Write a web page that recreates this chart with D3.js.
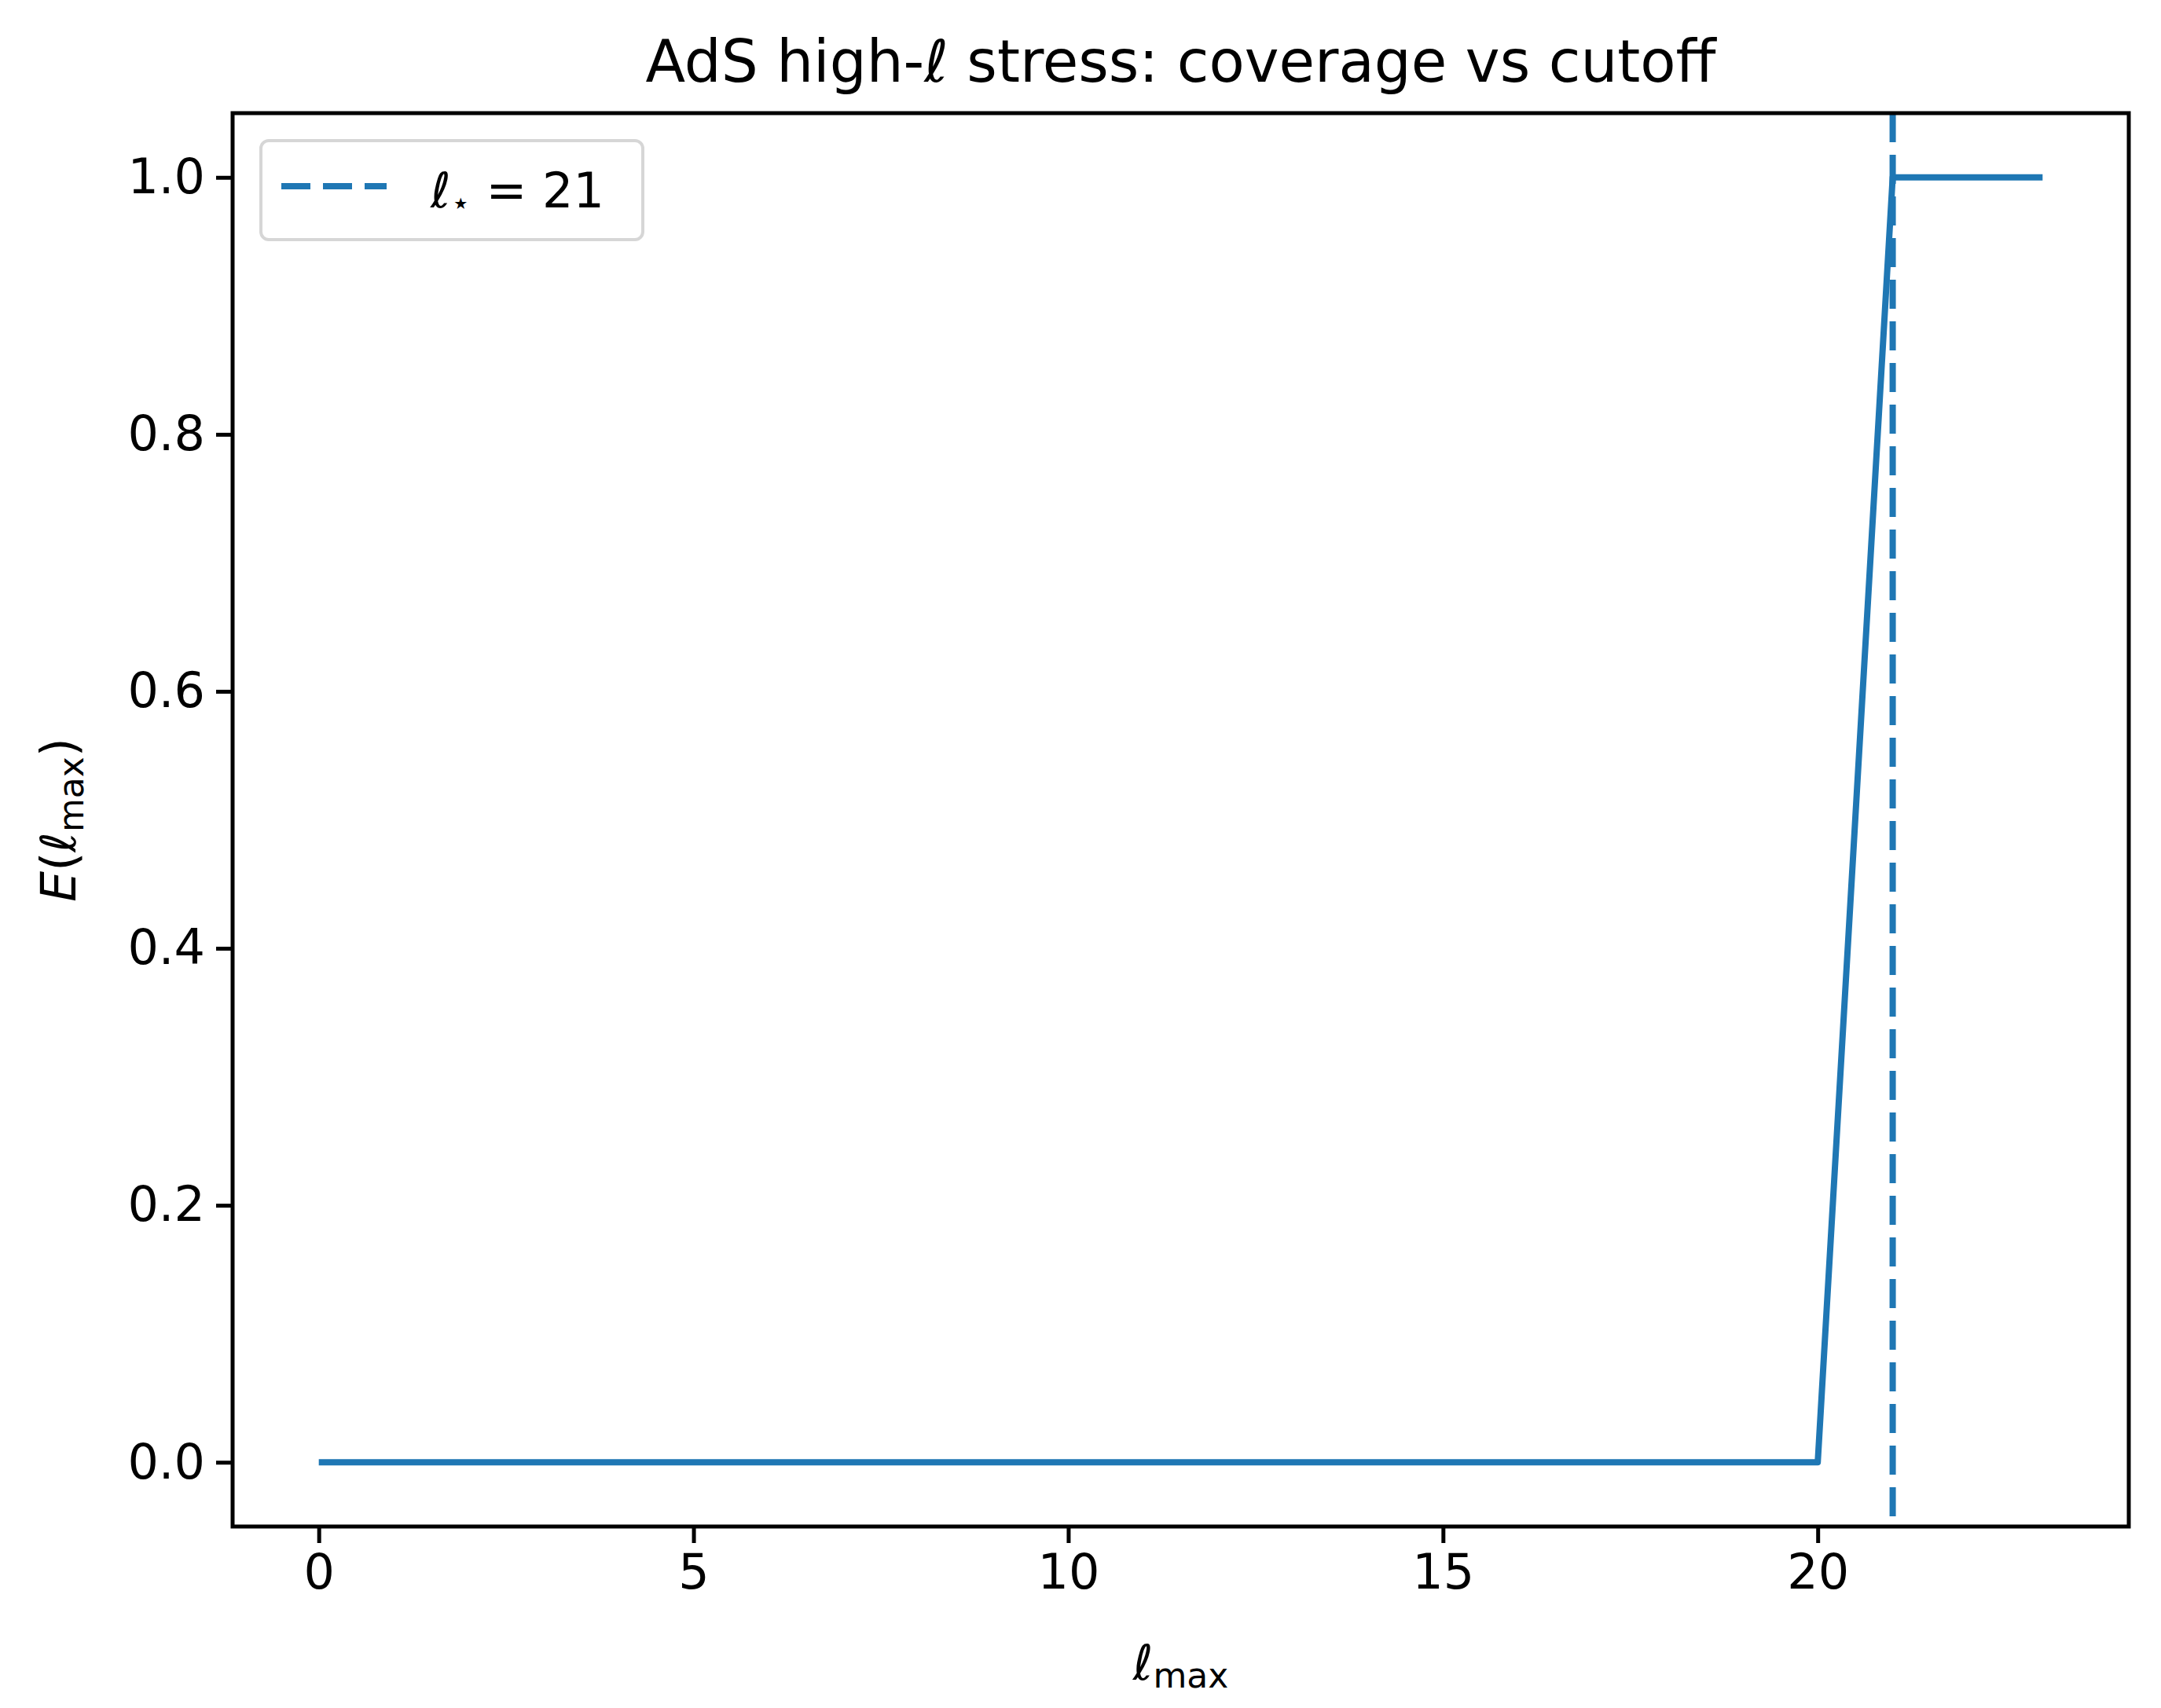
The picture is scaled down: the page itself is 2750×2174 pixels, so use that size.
<!DOCTYPE html>
<html><head><meta charset="utf-8">
<script src="https://cdn.jsdelivr.net/npm/d3@7"></script>
<style>body{margin:0;background:#fff}text{font-family:"DejaVu Sans",sans-serif}</style>
</head><body><div id="container"></div>
<script>
const lmax = d3.range(0, 24);
const coverage = [0,0,0,0,0,0,0,0,0,0,0,0,0,0,0,0,0,0,0,0,0,1,1,1];
const lstar = 21;
const xTicks = [0, 5, 10, 15, 20];
const yTicks = [0, 0.2, 0.4, 0.6, 0.8, 1.0];

const W = 2750, H = 2174;
const pLeft = 296, pRight = 2709, pTop = 144, pBottom = 1943;
const blue = '#1f77b4';

let svg = d3.select('#container').append('svg').attr('width', W).attr('height', H);

let x = d3.scaleLinear().domain([-1.15, 24.15]).range([pLeft, pRight]);
let y = d3.scaleLinear().domain([-0.05, 1.05]).range([pBottom, pTop]);

let plot = svg.append('g');
plot.append('path')
    .datum(lmax.map((d, i) => [d, coverage[i]]))
    .attr('d', d3.line().x(d => x(d[0])).y(d => y(d[1])))
    .attr('fill', 'none').attr('stroke', blue).attr('stroke-width', 8)
    .attr('stroke-linejoin', 'round');

plot.append('line')
    .attr('x1', x(lstar)).attr('x2', x(lstar)).attr('y1', pTop).attr('y2', pBottom)
    .attr('stroke', blue).attr('stroke-width', 8).attr('stroke-dasharray', '37 16');

let xAxis = svg.append('g').attr('transform', 'translate(0,' + pBottom + ')')
    .call(d3.axisBottom(x).tickValues(xTicks).tickSize(21).tickPadding(14).tickFormat(d3.format('d')));
let yAxis = svg.append('g').attr('transform', 'translate(' + pLeft + ',0)')
    .call(d3.axisLeft(y).tickValues(yTicks).tickSize(21).tickPadding(14).tickFormat(d3.format('.1f')));
[xAxis, yAxis].forEach(a => {
    a.select('.domain').remove();
    a.selectAll('line').attr('stroke', '#000').attr('stroke-width', 5);
    a.selectAll('text').attr('font-size', 62).attr('fill', '#000')
        .style('font-family', '"DejaVu Sans", sans-serif');
});

svg.append('rect').attr('x', pLeft).attr('y', pTop)
    .attr('width', pRight - pLeft).attr('height', pBottom - pTop)
    .attr('fill', 'none').attr('stroke', '#000').attr('stroke-width', 5);

svg.append('text').attr('x', (pLeft + pRight) / 2).attr('y', 104)
    .attr('text-anchor', 'middle').attr('font-size', 74).text('AdS high-ℓ stress: coverage vs cutoff');

let xl = svg.append('text').attr('x', (pLeft + pRight) / 2).attr('y', 2138)
    .attr('text-anchor', 'middle').attr('font-size', 62);
xl.append('tspan').attr('font-style', 'italic').text('ℓ');
xl.append('tspan').attr('font-size', 44).attr('dy', 10).text('max');

let yl = svg.append('text').attr('transform', 'translate(96,' + (pTop + pBottom) / 2 + ') rotate(-90)')
    .attr('text-anchor', 'middle').attr('font-size', 62);
yl.append('tspan').attr('font-style', 'italic').text('E');
yl.append('tspan').text('(');
yl.append('tspan').attr('font-style', 'italic').text('ℓ');
yl.append('tspan').attr('font-size', 44).attr('dy', 10).text('max');
yl.append('tspan').attr('dy', -10).text(')');

let lg = svg.append('g');
lg.append('rect').attr('x', 332).attr('y', 179).attr('width', 486).attr('height', 126)
    .attr('rx', 10).attr('fill', '#fff').attr('fill-opacity', 0.8)
    .attr('stroke', '#d6d6d6').attr('stroke-width', 4);
lg.append('line').attr('x1', 358).attr('x2', 492).attr('y1', 237).attr('y2', 237)
    .attr('stroke', blue).attr('stroke-width', 8).attr('stroke-dasharray', '37 16');
let lt = lg.append('text').attr('x', 548).attr('y', 264).attr('font-size', 62);
lt.append('tspan').attr('font-style', 'italic').text('ℓ');
lt.append('tspan').attr('font-size', 40).attr('dy', 8).text('⋆');
lt.append('tspan').attr('dy', -8).text(' = 21');
</script></body></html>
